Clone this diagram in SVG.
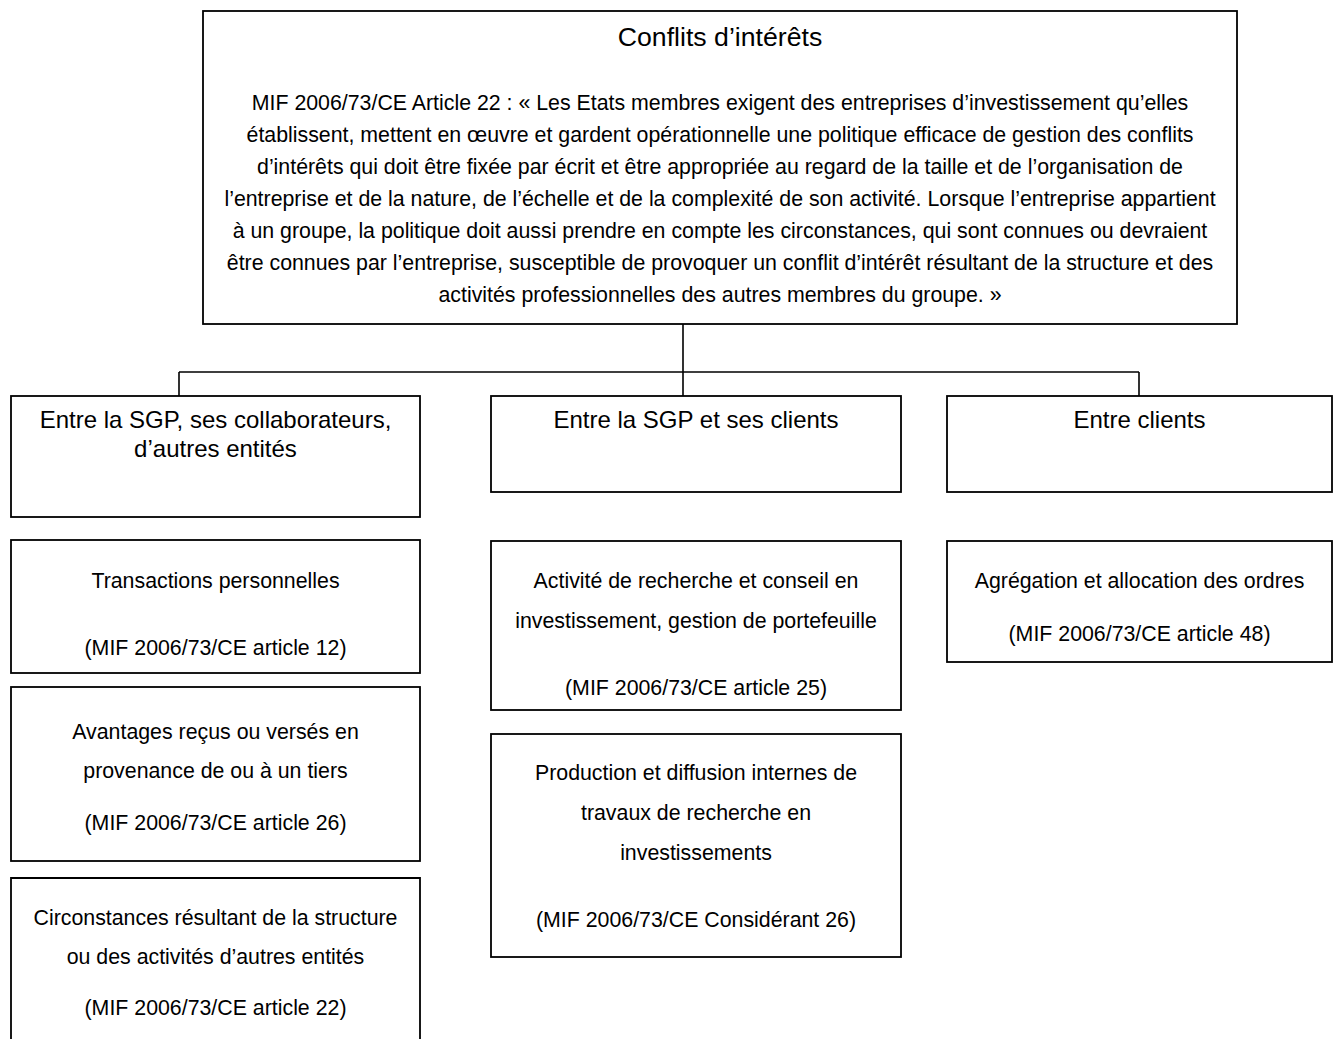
<svg xmlns="http://www.w3.org/2000/svg" width="1339" height="1039" viewBox="0 0 1339 1039">
<style>
.box{fill:#fff;stroke:#000;stroke-width:1.8}
.con{fill:none;stroke:#000;stroke-width:1.6}
text{font-family:"Liberation Sans",Arial,sans-serif;fill:#000;text-anchor:middle}
.t{font-size:26.67px}
.h{font-size:24px}
.b{font-size:21.33px}
</style>
<rect width="1339" height="1039" fill="#fff"/>
<g id="connectors">
<path class="con" d="M683 324V372M179 372H1139M179 372V396M683 372V396M1139 372V396"/>
</g>
<g id="root">
<rect class="box" x="203" y="11" width="1034" height="313"/>
<text class="t" x="720" y="46">Conflits d’intérêts</text>
<text class="b" x="720" y="110">MIF 2006/73/CE Article 22 : « Les Etats membres exigent des entreprises d’investissement qu’elles</text>
<text class="b" x="720" y="142">établissent, mettent en œuvre et gardent opérationnelle une politique efficace de gestion des conflits</text>
<text class="b" x="720" y="174">d’intérêts qui doit être fixée par écrit et être appropriée au regard de la taille et de l’organisation de</text>
<text class="b" x="720" y="206">l’entreprise et de la nature, de l’échelle et de la complexité de son activité. Lorsque l’entreprise appartient</text>
<text class="b" x="720" y="238">à un groupe, la politique doit aussi prendre en compte les circonstances, qui sont connues ou devraient</text>
<text class="b" x="720" y="270">être connues par l’entreprise, susceptible de provoquer un conflit d’intérêt résultant de la structure et des</text>
<text class="b" x="720" y="302">activités professionnelles des autres membres du groupe. »</text>
</g>
<g id="h1">
<rect class="box" x="11" y="396" width="409" height="121"/>
<text class="h" x="215.5" y="428">Entre la SGP, ses collaborateurs,</text>
<text class="h" x="215.5" y="457">d’autres entités</text>
</g>
<g id="h2">
<rect class="box" x="491" y="396" width="410" height="96"/>
<text class="h" x="696" y="428">Entre la SGP et ses clients</text>
</g>
<g id="h3">
<rect class="box" x="947" y="396" width="385" height="96"/>
<text class="h" x="1139.5" y="428">Entre clients</text>
</g>
<g id="l1">
<rect class="box" x="11" y="540" width="409" height="133"/>
<text class="b" x="215.5" y="588">Transactions personnelles</text>
<text class="b" x="215.5" y="655">(MIF 2006/73/CE article 12)</text>
</g>
<g id="l2">
<rect class="box" x="11" y="687" width="409" height="174"/>
<text class="b" x="215.5" y="739">Avantages reçus ou versés en</text>
<text class="b" x="215.5" y="778">provenance de ou à un tiers</text>
<text class="b" x="215.5" y="830">(MIF 2006/73/CE article 26)</text>
</g>
<g id="l3">
<path class="box" d="M11 1045V878H420V1045"/>
<text class="b" x="215.5" y="925">Circonstances résultant de la structure</text>
<text class="b" x="215.5" y="964">ou des activités d’autres entités</text>
<text class="b" x="215.5" y="1015">(MIF 2006/73/CE article 22)</text>
</g>
<g id="m1">
<rect class="box" x="491" y="541" width="410" height="169"/>
<text class="b" x="696" y="588">Activité de recherche et conseil en</text>
<text class="b" x="696" y="628">investissement, gestion de portefeuille</text>
<text class="b" x="696" y="695">(MIF 2006/73/CE article 25)</text>
</g>
<g id="m2">
<rect class="box" x="491" y="734" width="410" height="223"/>
<text class="b" x="696" y="780">Production et diffusion internes de</text>
<text class="b" x="696" y="820">travaux de recherche en</text>
<text class="b" x="696" y="860">investissements</text>
<text class="b" x="696" y="927">(MIF 2006/73/CE Considérant 26)</text>
</g>
<g id="r1">
<rect class="box" x="947" y="541" width="385" height="121"/>
<text class="b" x="1139.5" y="588">Agrégation et allocation des ordres</text>
<text class="b" x="1139.5" y="641">(MIF 2006/73/CE article 48)</text>
</g>
</svg>
